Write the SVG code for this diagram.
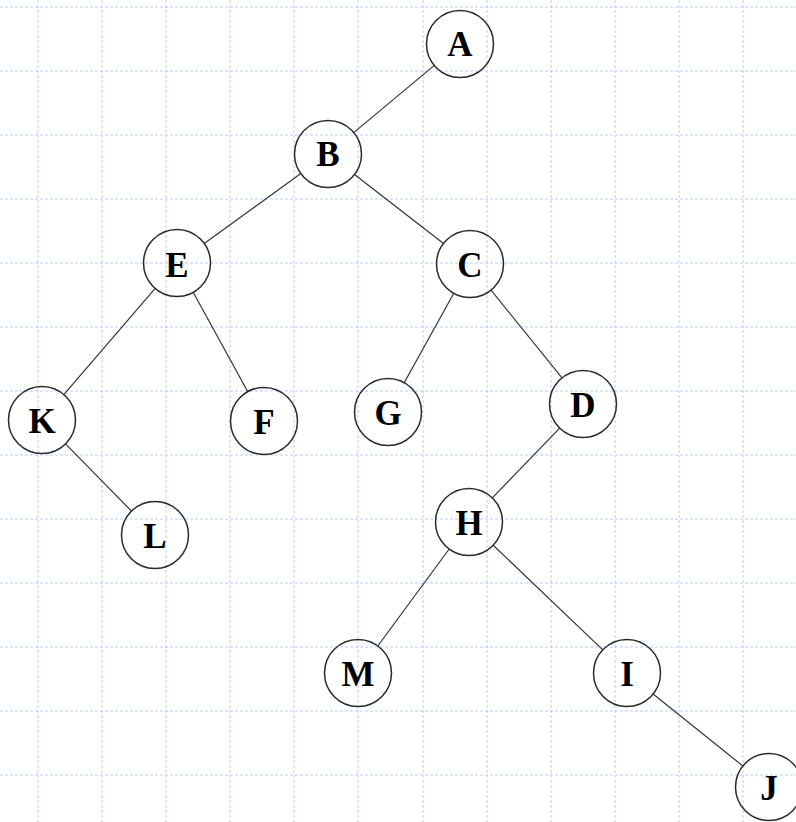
<svg xmlns="http://www.w3.org/2000/svg" width="796" height="822" viewBox="0 0 796 822">
<style>
.grid line{stroke:#b9caf5;stroke-width:1;stroke-dasharray:3 2}
.node circle{fill:none;stroke:#2a2a2a;stroke-width:1.5}
.node text{font-family:"Liberation Serif",serif;font-weight:bold;font-size:35px;fill:#000;text-anchor:middle}
.edges line{stroke:#333;stroke-width:1.2}
</style>
<rect width="796" height="822" fill="#fff"/>
<g class="grid">
<line x1="38" y1="0" x2="38" y2="822"/><line x1="102" y1="0" x2="102" y2="822"/><line x1="166" y1="0" x2="166" y2="822"/><line x1="230" y1="0" x2="230" y2="822"/><line x1="294" y1="0" x2="294" y2="822"/><line x1="358" y1="0" x2="358" y2="822"/><line x1="423" y1="0" x2="423" y2="822"/><line x1="487" y1="0" x2="487" y2="822"/><line x1="551" y1="0" x2="551" y2="822"/><line x1="615" y1="0" x2="615" y2="822"/><line x1="679" y1="0" x2="679" y2="822"/><line x1="743" y1="0" x2="743" y2="822"/>
<line x1="0" y1="7" x2="796" y2="7"/><line x1="0" y1="71" x2="796" y2="71"/><line x1="0" y1="135" x2="796" y2="135"/><line x1="0" y1="199" x2="796" y2="199"/><line x1="0" y1="263" x2="796" y2="263"/><line x1="0" y1="327" x2="796" y2="327"/><line x1="0" y1="391" x2="796" y2="391"/><line x1="0" y1="455" x2="796" y2="455"/><line x1="0" y1="519" x2="796" y2="519"/><line x1="0" y1="583" x2="796" y2="583"/><line x1="0" y1="647" x2="796" y2="647"/><line x1="0" y1="711" x2="796" y2="711"/><line x1="0" y1="775" x2="796" y2="775"/>
</g>
<g class="edges" id="edges">
<line x1="434.3" y1="65.4" x2="353.7" y2="132.6"/>
<line x1="300.8" y1="173.6" x2="204.2" y2="243.4"/>
<line x1="354.5" y1="174.5" x2="443.5" y2="243.5"/>
<line x1="155.2" y1="288.4" x2="63.8" y2="394.6"/>
<line x1="193.2" y1="292.3" x2="247.8" y2="391.7"/>
<line x1="453.8" y1="293.3" x2="404.2" y2="382.7"/>
<line x1="491.0" y1="290.1" x2="562.0" y2="377.9"/>
<line x1="65.5" y1="443.9" x2="131.5" y2="511.1"/>
<line x1="559.7" y1="428.1" x2="492.3" y2="497.9"/>
<line x1="449.2" y1="549.0" x2="377.8" y2="646.0"/>
<line x1="493.2" y1="545.2" x2="602.8" y2="649.9"/>
<line x1="653.1" y1="694.0" x2="742.9" y2="766.0"/>
</g>
<g class="node" id="A"><circle cx="460" cy="44" r="33.5"/><text x="460" y="56">A</text></g>
<g class="node" id="B"><circle cx="328" cy="154" r="33.5"/><text x="328" y="166">B</text></g>
<g class="node" id="E"><circle cx="177" cy="263" r="33.5"/><text x="177" y="277">E</text></g>
<g class="node" id="C"><circle cx="470" cy="264" r="33.5"/><text x="470" y="277">C</text></g>
<g class="node" id="K"><circle cx="42" cy="420" r="33.5"/><text x="42" y="433">K</text></g>
<g class="node" id="F"><circle cx="264" cy="421" r="33.5"/><text x="264" y="434">F</text></g>
<g class="node" id="G"><circle cx="388" cy="412" r="33.5"/><text x="388" y="425">G</text></g>
<g class="node" id="D"><circle cx="583" cy="404" r="33.5"/><text x="583" y="417">D</text></g>
<g class="node" id="L"><circle cx="155" cy="535" r="33.5"/><text x="155" y="548">L</text></g>
<g class="node" id="H"><circle cx="469" cy="522" r="33.5"/><text x="469" y="535">H</text></g>
<g class="node" id="M"><circle cx="358" cy="673" r="33.5"/><text x="358" y="686">M</text></g>
<g class="node" id="I"><circle cx="627" cy="673" r="33.5"/><text x="627" y="686">I</text></g>
<g class="node" id="J"><circle cx="769" cy="787" r="33.5"/><text x="769" y="800">J</text></g>
</svg>
